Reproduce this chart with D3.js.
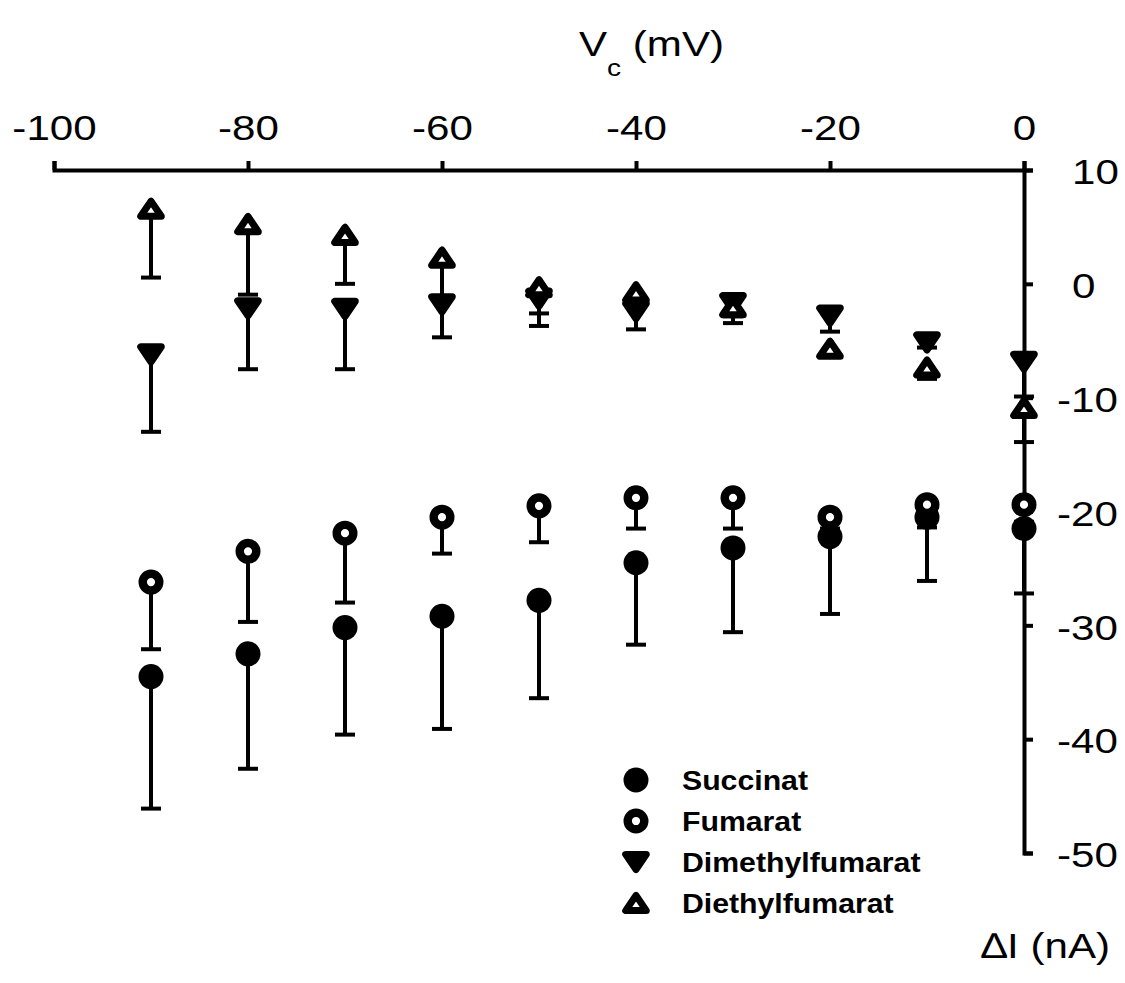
<!DOCTYPE html>
<html>
<head>
<meta charset="utf-8">
<script src="https://cdn.jsdelivr.net/npm/d3@7"></script>
<style>
body { margin: 0; background: #fff; }
text { font-family: "Liberation Sans", Arial, sans-serif; fill: #000; }
</style>
</head>
<body>
<script>
// Clamp voltage (mV)
const vc = [-90, -80, -70, -60, -50, -40, -30, -20, -10, 0];

// Current change (nA), mean and SD per substrate
const succinat = [-34.5, -32.5, -30.2, -29.2, -27.8, -24.5, -23.2, -22.2, -20.5, -21.5];
const succinatSD = [11.6, 10.1, 9.4, 9.9, 8.6, 7.2, 7.4, 6.8, 5.6, 5.7];
const fumarat = [-26.2, -23.5, -21.9, -20.5, -19.5, -18.8, -18.8, -20.5, -19.4, -19.4];
const fumaratSD = [5.9, 6.2, 6.1, 3.2, 3.2, 2.7, 2.7, 1.0, 2.0, 1.5];
const dimethyl = [-6.2, -2.15, -2.2, -1.8, -1.3, -2.4, -1.7, -2.8, -5.15, -6.85];
const dimethylSD = [6.8, 5.35, 5.3, 2.9, 2.4, 1.6, 1.75, 1.4, 0.45, 3.05];
const diethyl = [6.6, 5.25, 4.3, 2.3, -0.3, -0.75, -2.05, -5.7, -7.35, -10.9];
const diethylSD = [6.05, 6.2, 4.3, 3.8, 2.3, 1.2, 0.8, 0.6, 1.0, 3.0];

const names = ["Succinat", "Fumarat", "Dimethylfumarat", "Diethylfumarat"];
const xTicks = [-100, -80, -60, -40, -20, 0];
const yTicks = [10, 0, -10, -20, -30, -40, -50];

const width = 1125, height = 983;
const stretch = 1.17; // glyphs in the original are a bit wider than Arial
const lw = 4;

const svg = d3.select("body").append("svg")
  .attr("width", width)
  .attr("height", height);

const x = d3.scaleLinear().domain([-100, 0]).range([54, 1024]);
const y = d3.scaleLinear().domain([10, -50]).range([170, 853]);

// symbols
function drawSymbol(g, kind) {
  if (kind === 0) {
    g.append("circle").attr("r", 12.5).attr("fill", "#000");
  } else if (kind === 1) {
    g.append("circle").attr("r", 8.3).attr("fill", "#fff")
      .attr("stroke", "#000").attr("stroke-width", 8.4);
  } else if (kind === 2) {
    g.append("path").attr("d", "M-10.3,-7.6L10.3,-7.6L0,7.6Z")
      .attr("fill", "#000").attr("stroke", "#000")
      .attr("stroke-width", 7).attr("stroke-linejoin", "round");
  } else {
    g.append("path").attr("d", "M-10.3,7.6L10.3,7.6L0,-7.6Z")
      .attr("fill", "#fff").attr("stroke", "#000")
      .attr("stroke-width", 7).attr("stroke-linejoin", "round");
  }
}

const series = [
  {mean: succinat, sd: succinatSD},
  {mean: fumarat, sd: fumaratSD},
  {mean: dimethyl, sd: dimethylSD},
  {mean: diethyl, sd: diethylSD}
];

const fmt = function(d) { return String(d); }; // plain hyphen minus

// X axis on top
const xAxis = svg.append("g")
  .attr("transform", "translate(0," + y(10) + ")")
  .call(d3.axisTop(x).tickValues(xTicks).tickFormat(fmt)
    .tickSize(9).tickSizeOuter(9).tickPadding(21));

// Y axis on the right
const yAxis = svg.append("g")
  .attr("transform", "translate(" + x(0) + ",0)")
  .call(d3.axisRight(y).tickValues(yTicks).tickFormat(fmt)
    .tickSize(9).tickSizeOuter(9));

[xAxis, yAxis].forEach(function(a) {
  a.selectAll("path, line").attr("stroke", "#000").attr("stroke-width", lw);
  a.selectAll("text").attr("font-size", 36).attr("fill", "#000")
    .attr("font-family", "Liberation Sans, Arial, sans-serif");
});
xAxis.selectAll("text").attr("transform", "scale(" + stretch + ",1)");
yAxis.selectAll("text")
  .attr("text-anchor", "start")
  .attr("dy", "0.38em")
  .attr("x", function(d) { return (d < 0 ? 33 : 48) / stretch; })
  .attr("transform", "scale(" + stretch + ",1)");

// data: error bars (downward) then markers, series by series
series.forEach(function(s, k) {
  const g = svg.append("g");
  vc.forEach(function(v, i) {
    const cx = x(v), cy = y(s.mean[i]), lo = y(s.mean[i] - s.sd[i]);
    g.append("line").attr("x1", cx).attr("x2", cx).attr("y1", cy).attr("y2", lo)
      .attr("stroke", "#000").attr("stroke-width", lw);
    g.append("line").attr("x1", cx - 10).attr("x2", cx + 10).attr("y1", lo).attr("y2", lo)
      .attr("stroke", "#000").attr("stroke-width", lw);
  });
  vc.forEach(function(v, i) {
    const m = g.append("g").attr("transform", "translate(" + x(v) + "," + y(s.mean[i]) + ")");
    drawSymbol(m, k);
  });
});

// legend
const legend = svg.append("g");
names.forEach(function(n, i) {
  const ly = 780 + i * 41;
  drawSymbol(legend.append("g").attr("transform", "translate(636," + ly + ")"), i);
  legend.append("g").attr("transform", "translate(682," + (ly + 10) + ") scale(1.08,1)")
    .append("text")
    .attr("font-size", 28)
    .attr("font-weight", "bold")
    .text(n);
});

// axis titles
const xTitle = svg.append("g").attr("transform", "translate(579,56) scale(" + stretch + ",1)")
  .append("text").attr("font-size", 36);
xTitle.append("tspan").text("V");
xTitle.append("tspan").attr("font-size", 24).attr("dy", 20).text("c");
xTitle.append("tspan").attr("dy", -20).text(" (mV)");

svg.append("g").attr("transform", "translate(1110,958) scale(" + stretch + ",1)")
  .append("text")
  .attr("font-size", 36)
  .attr("text-anchor", "end")
  .text("\u2206I (nA)");
</script>
</body>
</html>
